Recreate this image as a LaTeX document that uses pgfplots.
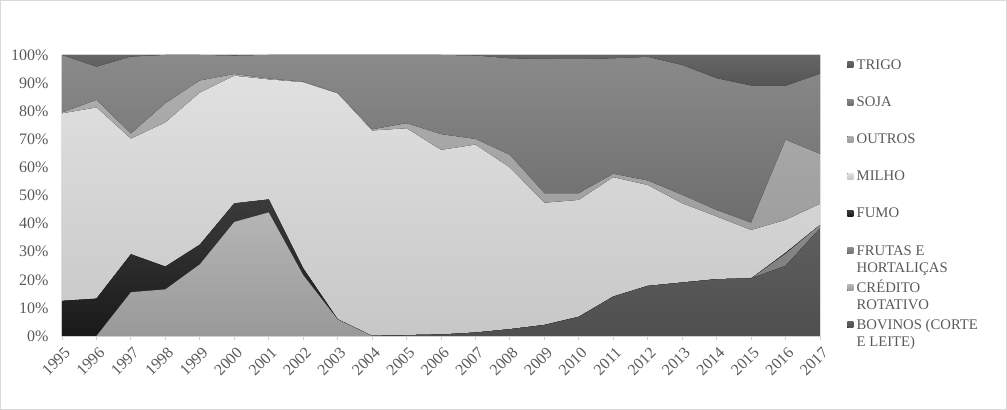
\documentclass[border=0pt]{standalone}
\usepackage{fontspec}
\setmainfont{Liberation Serif}
\usepackage{pgfplots}
\pgfplotsset{compat=1.18}
\usepackage{pgfplotstable}
\definecolor{txt}{HTML}{595959}
\definecolor{frame}{HTML}{D9D9D9}
\definecolor{axisl}{HTML}{D0D0D0}

\pgfplotstableread{
year BOV  CRED FRUT FUMO MILHO OUTROS SOJA TRIGO
1995 0    0    0    12.5 66.7  0.3    20.5 0
1996 0    0    0    13.3 68.0  2.7    11.8 4.2
1997 0    15.6 0    13.5 41.1  1.8    27.4 0.6
1998 0    16.6 0    8.1  51.3  6.8    17.2 0
1999 0    25.5 0    7.0  54.1  4.3    9.1  0
2000 0    40.6 0    6.6  45.4  0.6    6.6  0.2
2001 0    44.0 0    4.6  42.7  0.3    8.4  0
2002 0    21.7 0    2.4  66.2  0.2    9.5  0
2003 0    5.9  0    0.1  80.3  0.2    13.5 0
2004 0    0    0    0    73.1  0.4    26.5 0
2005 0.3  0    0    0    73.6  1.8    24.3 0
2006 0.5  0    0    0    65.7  5.6    28.2 0
2007 1.2  0    0    0    66.9  2.0    29.7 0.2
2008 2.4  0    0    0    57.5  4.5    34.4 1.2
2009 3.9  0    0    0    43.5  3.4    47.8 1.4
2010 6.8  0    0    0    41.6  2.4    47.7 1.5
2011 14.0 0    0    0    42.5  1.2    41.1 1.2
2012 17.8 0    0    0    35.9  1.6    44.0 0.7
2013 19.0 0    0    0    28.2  3.0    46.2 3.6
2014 20.2 0    0    0    22.3  2.3    46.9 8.3
2015 20.5 0    0    0    17.2  2.6    48.8 10.9
2016 24.9 0    4.4  0.3  11.7  28.5   19.2 11.0
2017 38.3 0    1.2  0    7.5   17.8   28.5 6.7
}\data

\begin{document}
\begin{tikzpicture}
\draw[draw=frame, line width=1bp] (0.5bp,0.5bp) rectangle (1006.5bp,409.5bp);
\begin{axis}[
  at={(62bp,74bp)}, anchor=south west,
  width=758bp, height=281bp, scale only axis,
  xmin=1995, xmax=2017, ymin=0, ymax=100,
  stack plots=y,
  xtick={1995,...,2017},
  ytick={0,10,...,100},
  yticklabel={\pgfmathprintnumber{\tick}\%},
  /pgf/number format/1000 sep={},
  /pgf/number format/assume math mode=true,
  tick label style={font=\fontsize{16bp}{19bp}\selectfont, text=txt},
  xticklabel style={rotate=45, anchor=east, xshift=0bp, yshift=-11bp},
  yticklabel style={xshift=-10bp},
  axis lines*=left,
  x axis line style={draw=axisl, line width=0.8bp},
  y axis line style={draw=none},
  xtick align=outside,
  major tick length=4bp,
  xtick style={draw=axisl, line width=0.8bp},
  ytick style={draw=none},
  area style,
  every axis plot/.append style={draw=none},
  reverse legend,
  legend image code/.code={\fill[#1] (0bp,1.5bp) rectangle (6bp,7.5bp);},
  legend style={draw=none, fill=none, at={(1.036,0.988)}, anchor=north west,
    inner sep=0pt, outer sep=0pt, row sep=0pt, column sep=0pt,
    nodes={anchor=base west, inner xsep=3.4bp, inner ysep=0pt,
      text height=11bp, text depth=26.14bp, text=txt,
      font=\fontsize{14.7bp}{17bp}\selectfont}},
  clip=false,
]
\addplot[fill, shade, top color=black!63, bottom color=black!69] table[x=year, y=BOV]{\data} \closedcycle;
\addlegendentry{\parbox[t]{140bp}{BOVINOS (CORTE\\E LEITE)}}
\addplot[fill, shade, top color=black!29, bottom color=black!40] table[x=year, y=CRED]{\data} \closedcycle;
\addlegendentry{\parbox[t]{140bp}{CRÉDITO\\ROTATIVO}}
\addplot[fill, shade, top color=black!45, bottom color=black!55] table[x=year, y=FRUT]{\data} \closedcycle;
\addlegendentry{\parbox[t]{140bp}{FRUTAS E\\HORTALIÇAS}}
\addplot[fill, shade, top color=black!77, bottom color=black!90] table[x=year, y=FUMO]{\data} \closedcycle;
\addlegendentry{FUMO}
\addplot[fill, shade, top color=black!12, bottom color=black!22] table[x=year, y=MILHO]{\data} \closedcycle;
\addlegendentry{MILHO}
\addplot[fill, shade, top color=black!32, bottom color=black!38] table[x=year, y=OUTROS]{\data} \closedcycle;
\addlegendentry{OUTROS}
\addplot[fill, shade, top color=black!46, bottom color=black!57] table[x=year, y=SOJA]{\data} \closedcycle;
\addlegendentry{SOJA}
\addplot[fill, shade, top color=black!60, bottom color=black!67] table[x=year, y=TRIGO]{\data} \closedcycle;
\addlegendentry{TRIGO}
\end{axis}
\end{tikzpicture}
\end{document}
